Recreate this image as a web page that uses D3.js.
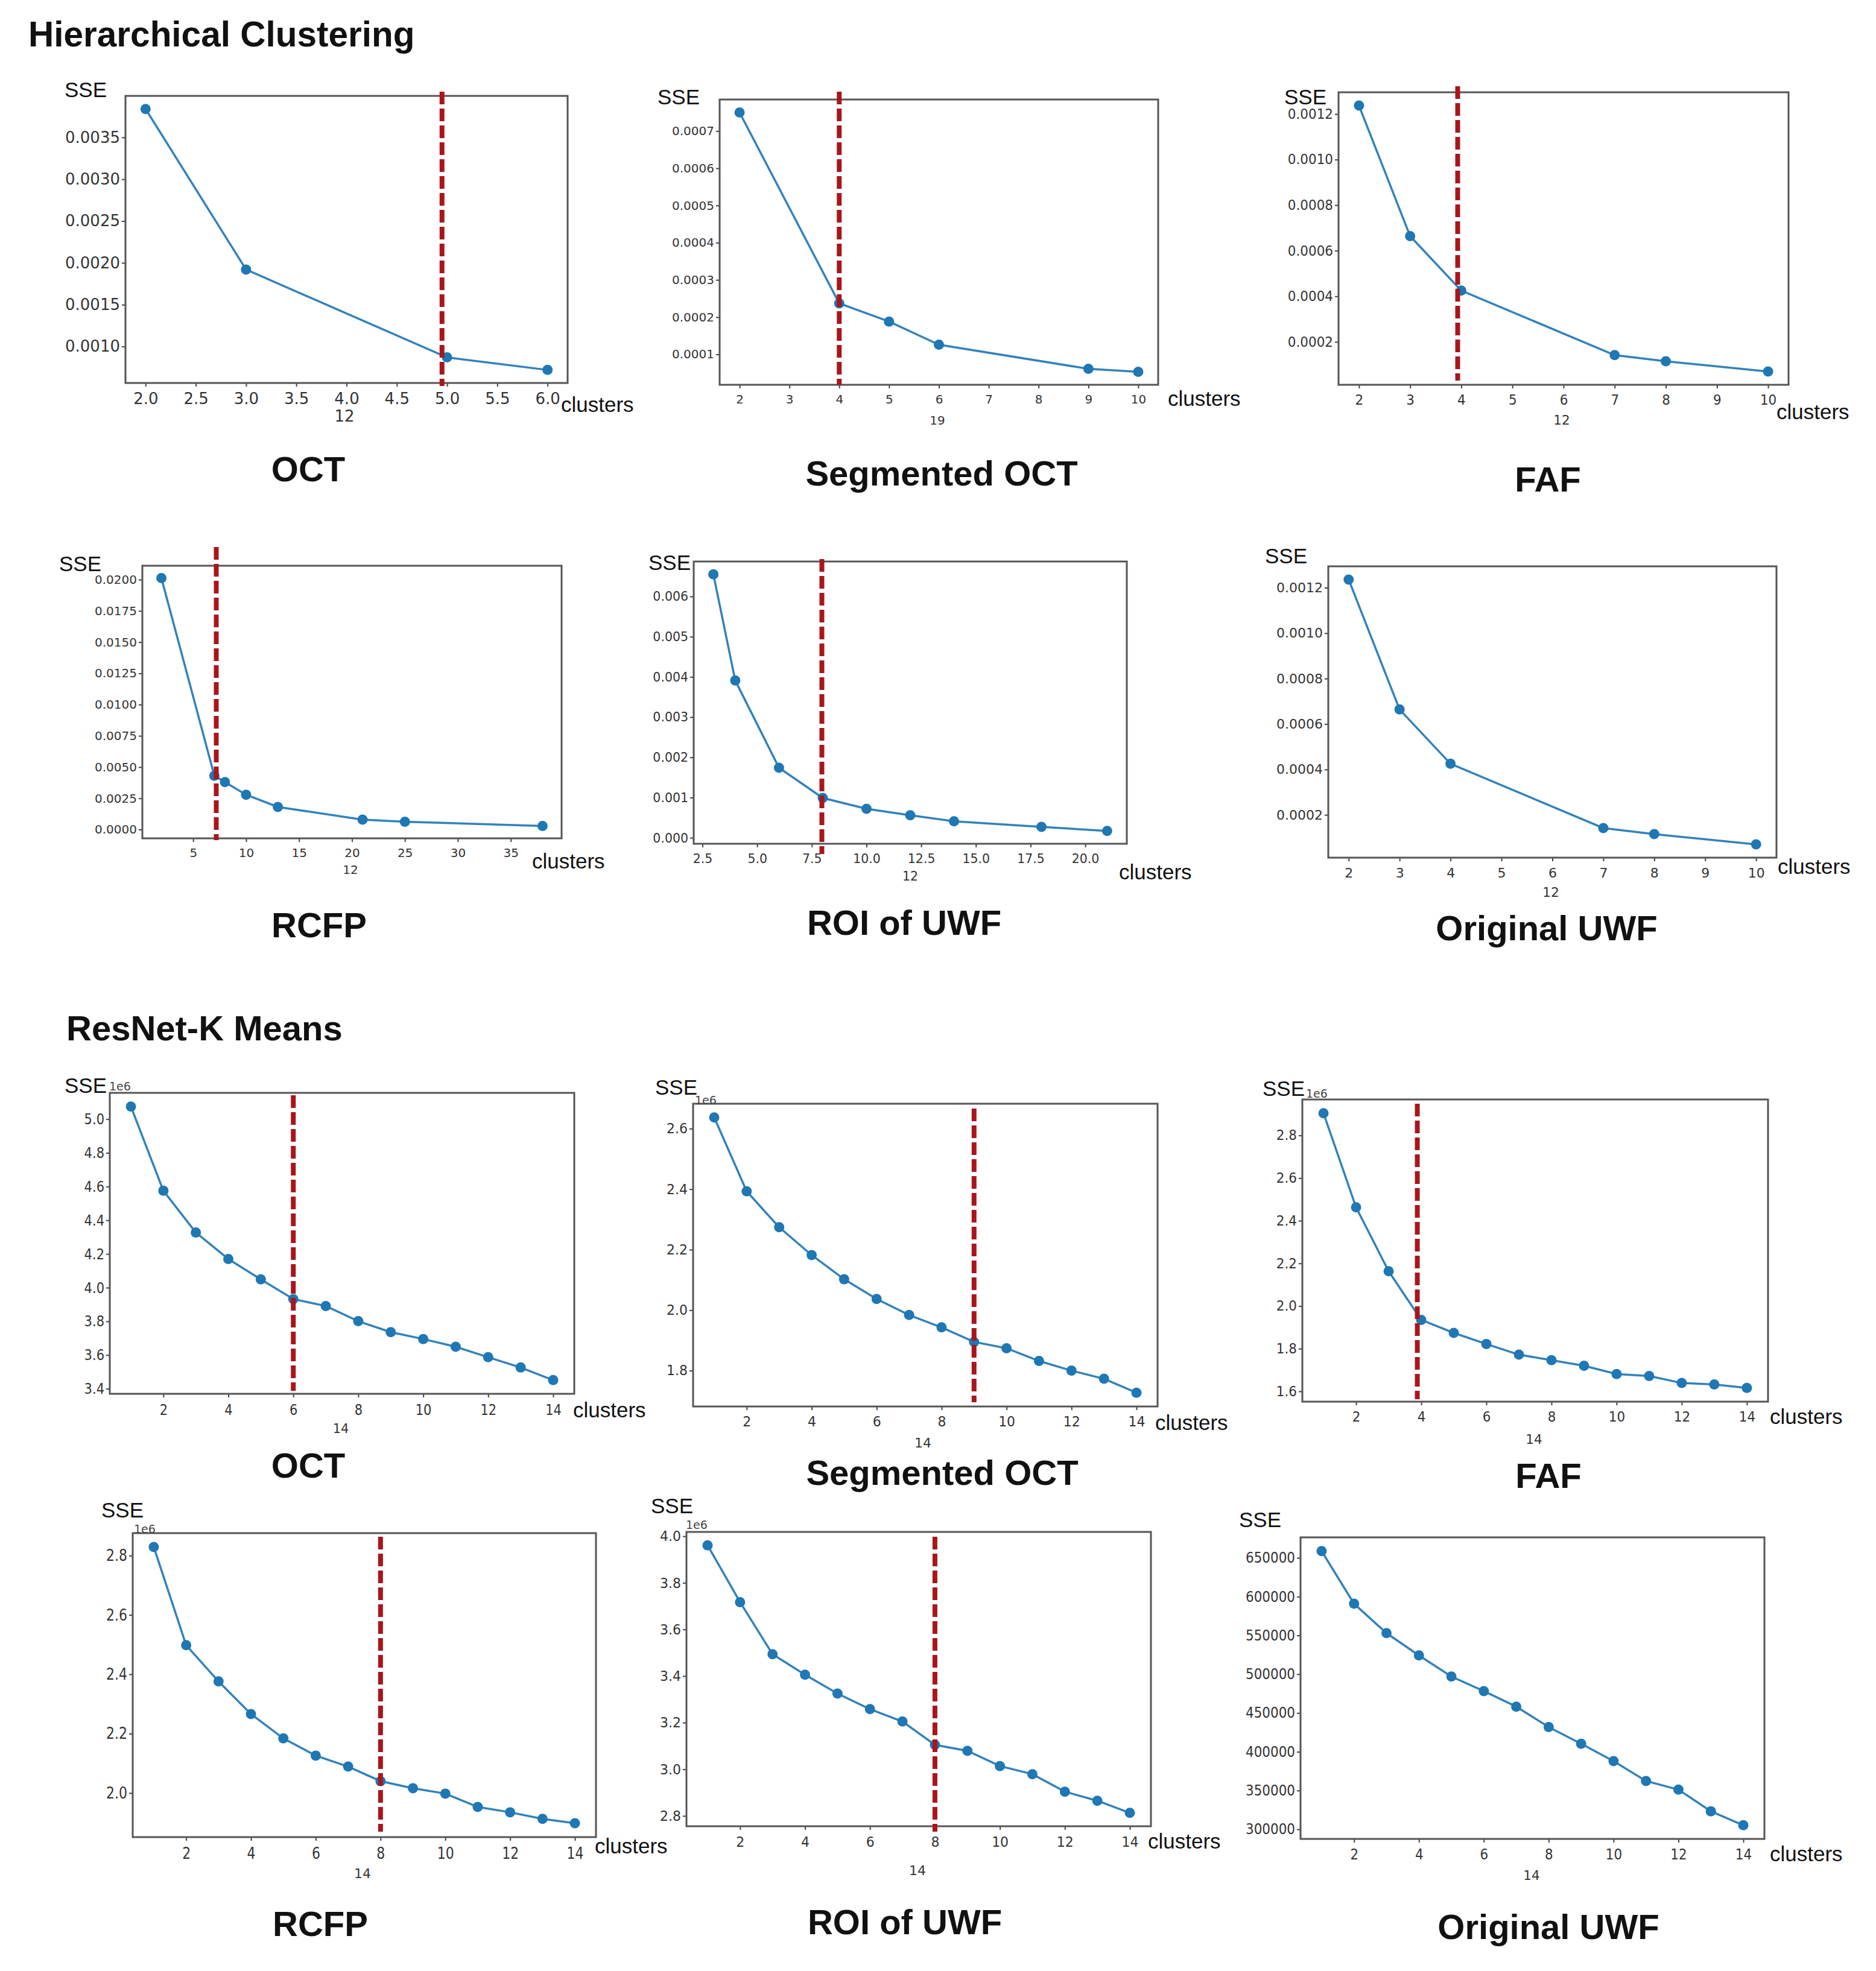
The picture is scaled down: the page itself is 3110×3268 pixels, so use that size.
<!DOCTYPE html>
<html>
<head>
<meta charset="utf-8">
<script src="https://cdn.jsdelivr.net/npm/d3@7"></script>
<style>
  body { margin: 0; background: #fff; }
</style>
</head>
<body>
<svg id="fig" width="3110" height="3268"></svg>
<script>
// ---- data: Hierarchical Clustering ----
const hcOctX = [2, 3, 5, 6]
const hcOctY = [0.00384, 0.00192, 0.00087, 0.00072]
const hcSegX = [2, 4, 5, 6, 9, 10]
const hcSegY = [0.00075, 0.000237, 0.000188, 0.000126, 0.000061, 0.000053]
const hcFafX = [2, 3, 4, 7, 8, 10]
const hcFafY = [0.001237, 0.000664, 0.000425, 0.000142, 0.000115, 0.00007]
const hcRcfpX = [2, 7, 8, 10, 13, 21, 25, 38]
const hcRcfpY = [0.02012, 0.00431, 0.0038, 0.00279, 0.00181, 0.00079, 0.00063, 0.00029]
const hcRoiX = [3, 4, 6, 8, 10, 12, 14, 18, 21]
const hcRoiY = [0.00655, 0.00391, 0.00174, 0.00099, 0.00072, 0.00056, 0.00041, 0.00027, 0.00017]
const hcUwfX = [2, 3, 4, 7, 8, 10]
const hcUwfY = [0.001236, 0.000664, 0.000425, 0.000142, 0.000115, 0.00007]

// ---- data: ResNet-K Means (k = 1..14) ----
const kmK = [1, 2, 3, 4, 5, 6, 7, 8, 9, 10, 11, 12, 13, 14]
const kmOctY = [5.075, 4.575, 4.327, 4.170, 4.049, 3.932, 3.891, 3.801, 3.736, 3.695, 3.649, 3.587, 3.526, 3.451]
const kmSegY = [2.637, 2.393, 2.274, 2.182, 2.102, 2.037, 1.984, 1.943, 1.895, 1.874, 1.832, 1.800, 1.773, 1.727]
const kmFafY = [2.904, 2.463, 2.163, 1.935, 1.874, 1.822, 1.772, 1.746, 1.720, 1.681, 1.672, 1.639, 1.632, 1.616]
const kmRcfpY = [2.829, 2.498, 2.376, 2.266, 2.184, 2.126, 2.089, 2.040, 2.016, 1.998, 1.953, 1.935, 1.913, 1.898]
const kmRoiY = [3.961, 3.717, 3.494, 3.406, 3.325, 3.258, 3.205, 3.105, 3.079, 3.014, 2.979, 2.904, 2.865, 2.813]
const kmUwfY = [658760, 590850, 552950, 524200, 497000, 478200, 458200, 431900, 410300, 387900, 362300, 351200, 323300, 305300]

// elbow (red dashed line) per panel, null = none
const elbows = [4.95, 4, 3.93, 7.18, 7.96, null, 6, 9, 3.88, 8, 8, null]

// tick values
const hcOctXTicks = [2.0, 2.5, 3.0, 3.5, 4.0, 4.5, 5.0, 5.5, 6.0]
const hcOctYTicks = [0.0010, 0.0015, 0.0020, 0.0025, 0.0030, 0.0035]
const intTicks2to10 = [2, 3, 4, 5, 6, 7, 8, 9, 10]
const hcSegYTicks = [0.0001, 0.0002, 0.0003, 0.0004, 0.0005, 0.0006, 0.0007]
const hcFafYTicks = [0.0002, 0.0004, 0.0006, 0.0008, 0.0010, 0.0012]
const hcRcfpXTicks = [5, 10, 15, 20, 25, 30, 35]
const hcRcfpYTicks = [0, 0.0025, 0.005, 0.0075, 0.01, 0.0125, 0.015, 0.0175, 0.02]
const hcRoiXTicks = [2.5, 5.0, 7.5, 10.0, 12.5, 15.0, 17.5, 20.0]
const hcRoiYTicks = [0, 0.001, 0.002, 0.003, 0.004, 0.005, 0.006]
const kmXTicks = [2, 4, 6, 8, 10, 12, 14]
const kmOctYTicks = [3.4, 3.6, 3.8, 4.0, 4.2, 4.4, 4.6, 4.8, 5.0]
const kmSegYTicks = [1.8, 2.0, 2.2, 2.4, 2.6]
const kmFafYTicks = [1.6, 1.8, 2.0, 2.2, 2.4, 2.6, 2.8]
const kmRcfpYTicks = [2.0, 2.2, 2.4, 2.6, 2.8]
const kmRoiYTicks = [2.8, 3.0, 3.2, 3.4, 3.6, 3.8, 4.0]
const kmUwfYTicks = [300000, 350000, 400000, 450000, 500000, 550000, 600000, 650000]

const titles = ['OCT', 'Segmented OCT', 'FAF', 'RCFP', 'ROI of UWF', 'Original UWF',
  'OCT', 'Segmented OCT', 'FAF', 'RCFP', 'ROI of UWF', 'Original UWF']
const midLabels = ['12', '19', '12', '12', '12', '12', '14', '14', '14', '14', '14', '14']

const panels = [
  { x: hcOctX, y: hcOctY, xt: hcOctXTicks, yt: hcOctYTicks, xf: '.1f', yf: '.4f' },
  { x: hcSegX, y: hcSegY, xt: intTicks2to10, yt: hcSegYTicks, xf: 'd', yf: '.4f' },
  { x: hcFafX, y: hcFafY, xt: intTicks2to10, yt: hcFafYTicks, xf: 'd', yf: '.4f' },
  { x: hcRcfpX, y: hcRcfpY, xt: hcRcfpXTicks, yt: hcRcfpYTicks, xf: 'd', yf: '.4f' },
  { x: hcRoiX, y: hcRoiY, xt: hcRoiXTicks, yt: hcRoiYTicks, xf: '.1f', yf: '.3f' },
  { x: hcUwfX, y: hcUwfY, xt: intTicks2to10, yt: hcFafYTicks, xf: 'd', yf: '.4f' },
  { x: kmK, y: kmOctY, xt: kmXTicks, yt: kmOctYTicks, xf: 'd', yf: '.1f' },
  { x: kmK, y: kmSegY, xt: kmXTicks, yt: kmSegYTicks, xf: 'd', yf: '.1f' },
  { x: kmK, y: kmFafY, xt: kmXTicks, yt: kmFafYTicks, xf: 'd', yf: '.1f' },
  { x: kmK, y: kmRcfpY, xt: kmXTicks, yt: kmRcfpYTicks, xf: 'd', yf: '.1f' },
  { x: kmK, y: kmRoiY, xt: kmXTicks, yt: kmRoiYTicks, xf: 'd', yf: '.1f' },
  { x: kmK, y: kmUwfY, xt: kmXTicks, yt: kmUwfYTicks, xf: 'd', yf: 'd' },
]

// layout: axes box, label anchors, tick font size (+ vertical stretch), dashed line extent
const layout = [
  { box: [208, 159, 941, 635], sse: [107, 161], cl: [930, 683], mid: [571, 699], title: [511, 798], fs: 26, sy: 1, dash: [152, 640] },
  { box: [1193, 165, 1920, 638], sse: [1090, 173], cl: [1936, 673], mid: [1554, 704], title: [1561, 805], fs: 20, sy: 1, dash: [152, 638] },
  { box: [2219, 153, 2965, 638], sse: [2129, 173], cl: [2945, 695], mid: [2589, 704], title: [2566, 815], fs: 21.5, sy: 1.06, dash: [143, 631] },
  { box: [236, 938, 931, 1390], sse: [98, 947], cl: [882, 1440], mid: [581, 1449], title: [529, 1554], fs: 20, sy: 1, dash: [907, 1393] },
  { box: [1150, 931, 1868, 1399], sse: [1075, 945], cl: [1855, 1458], mid: [1509, 1460], title: [1499, 1550], fs: 20.5, sy: 1.06, dash: [927, 1416] },
  { box: [2202, 939, 2945, 1422], sse: [2097, 934], cl: [2947, 1449], mid: [2571, 1487], title: [2564, 1559], fs: 22, sy: 1 },
  { box: [182, 1812, 952, 2311], sse: [107, 1812], e6: [181, 1808], cl: [950, 2350], mid: [565, 2376], title: [511, 2450], fs: 21, sy: 1.2, dash: [1816, 2306] },
  { box: [1149, 1830, 1919, 2332], sse: [1086, 1815], e6: [1152, 1831], cl: [1915, 2371], mid: [1530, 2400], title: [1562, 2462], fs: 22, sy: 1.05, dash: [1838, 2325] },
  { box: [2159, 1823, 2931, 2324], sse: [2093, 1817], e6: [2165, 1820], cl: [2934, 2361], mid: [2543, 2394], title: [2567, 2467], fs: 21.5, sy: 1.08, dash: [1830, 2320] },
  { box: [220, 2542, 988, 3046], sse: [168, 2516], e6: [222, 2542], cl: [986, 3073], mid: [601, 3114], title: [531, 3210], fs: 22, sy: 1.2, dash: [2548, 3037] },
  { box: [1138, 2540, 1908, 3028], sse: [1079, 2509], e6: [1137, 2535], cl: [1903, 3065], mid: [1521, 3109], title: [1500, 3207], fs: 22, sy: 1.08, dash: [2548, 3037] },
  { box: [2156, 2549, 2925, 3049], sse: [2054, 2532], cl: [2934, 3086], mid: [2539, 3117], title: [2567, 3215], fs: 21.5, sy: 1.12 },
]

const svg = d3.select('#fig')
svg.append('rect').attr('width', 3110).attr('height', 3268).attr('fill', '#fff')

const sansBold = '"Liberation Sans", Arial, sans-serif'
const tickFont = '"DejaVu Sans", sans-serif'
const tickLen = 6, tickPadX = 11

// matplotlib style 5% margins
function padded(vals) {
  let [lo, hi] = d3.extent(vals)
  let m = (hi - lo) * 0.05
  return [lo - m, hi + m]
}

// section headings
svg.append('text').attr('x', 47).attr('y', 77).text('Hierarchical Clustering')
  .attr('font-family', sansBold).attr('font-weight', 'bold').attr('font-size', 58.5).attr('fill', '#111')
svg.append('text').attr('x', 110).attr('y', 1725).text('ResNet-K Means')
  .attr('font-family', sansBold).attr('font-weight', 'bold').attr('font-size', 58).attr('fill', '#111')

panels.forEach((p, i) => {
  const L = layout[i]
  const [x0, y0, x1, y1] = L.box
  const x = d3.scaleLinear().domain(padded(p.x)).range([x0, x1])
  const y = d3.scaleLinear().domain(padded(p.y)).range([y1, y0])
  const g = svg.append('g')

  // axes
  const ax = g.append('g').attr('transform', `translate(0,${y1})`)
    .call(d3.axisBottom(x).tickValues(p.xt).tickFormat(d3.format(p.xf)).tickSize(tickLen).tickPadding(tickPadX))
  const ay = g.append('g').attr('transform', `translate(${x0},0)`)
    .call(d3.axisLeft(y).tickValues(p.yt).tickFormat(d3.format(p.yf)).tickSize(tickLen).tickPadding(3))
  ;[ax, ay].forEach(a => {
    a.select('.domain').remove()
    a.selectAll('line').attr('stroke', '#444').attr('stroke-width', 2)
    a.selectAll('text').attr('font-family', tickFont).attr('font-size', L.fs).attr('fill', '#333')
  })
  // the source figure is slightly stretched vertically
  ay.selectAll('text').attr('transform', `scale(1,${L.sy})`)
  ax.selectAll('text').attr('y', 0).attr('transform', `translate(0,${tickLen + tickPadX}) scale(1,${L.sy})`)

  // frame
  g.append('rect').attr('x', x0).attr('y', y0).attr('width', x1 - x0).attr('height', y1 - y0)
    .attr('fill', 'none').attr('stroke', '#555').attr('stroke-width', 3)

  // elbow curve
  const pts = p.x.map((v, j) => [v, p.y[j]])
  g.append('path').datum(pts)
    .attr('d', d3.line().x(d => x(d[0])).y(d => y(d[1])))
    .attr('fill', 'none').attr('stroke', '#3282bb').attr('stroke-width', 3.5)
  g.selectAll('circle.pt').data(pts).join('circle')
    .attr('cx', d => x(d[0])).attr('cy', d => y(d[1])).attr('r', 8.5)
    .attr('fill', '#1f77b4')

  // chosen k
  if (elbows[i] !== null) {
    g.append('line')
      .attr('x1', x(elbows[i])).attr('x2', x(elbows[i]))
      .attr('y1', L.dash[0]).attr('y2', L.dash[1])
      .attr('stroke', '#a8161b').attr('stroke-width', 8).attr('stroke-dasharray', '21 7')
  }

  // labels
  g.append('text').attr('x', L.sse[0]).attr('y', L.sse[1]).text('SSE')
    .attr('font-family', sansBold).attr('font-size', 35).attr('fill', '#111')
  if (L.e6) {
    g.append('text').attr('x', L.e6[0]).attr('y', L.e6[1]).text('1e6')
      .attr('font-family', tickFont).attr('font-size', 19).attr('fill', '#444')
  }
  g.append('text').attr('x', L.cl[0]).attr('y', L.cl[1]).text('clusters')
    .attr('font-family', sansBold).attr('font-size', 35).attr('fill', '#111')
  g.append('text').attr('x', L.mid[0]).attr('y', L.mid[1]).text(midLabels[i])
    .attr('text-anchor', 'middle').attr('font-family', tickFont).attr('font-size', L.fs).attr('fill', '#333')
  g.append('text').attr('x', L.title[0]).attr('y', L.title[1]).text(titles[i])
    .attr('text-anchor', 'middle').attr('font-family', sansBold).attr('font-weight', 'bold')
    .attr('font-size', 58).attr('fill', '#111')
})
</script>
</body>
</html>
